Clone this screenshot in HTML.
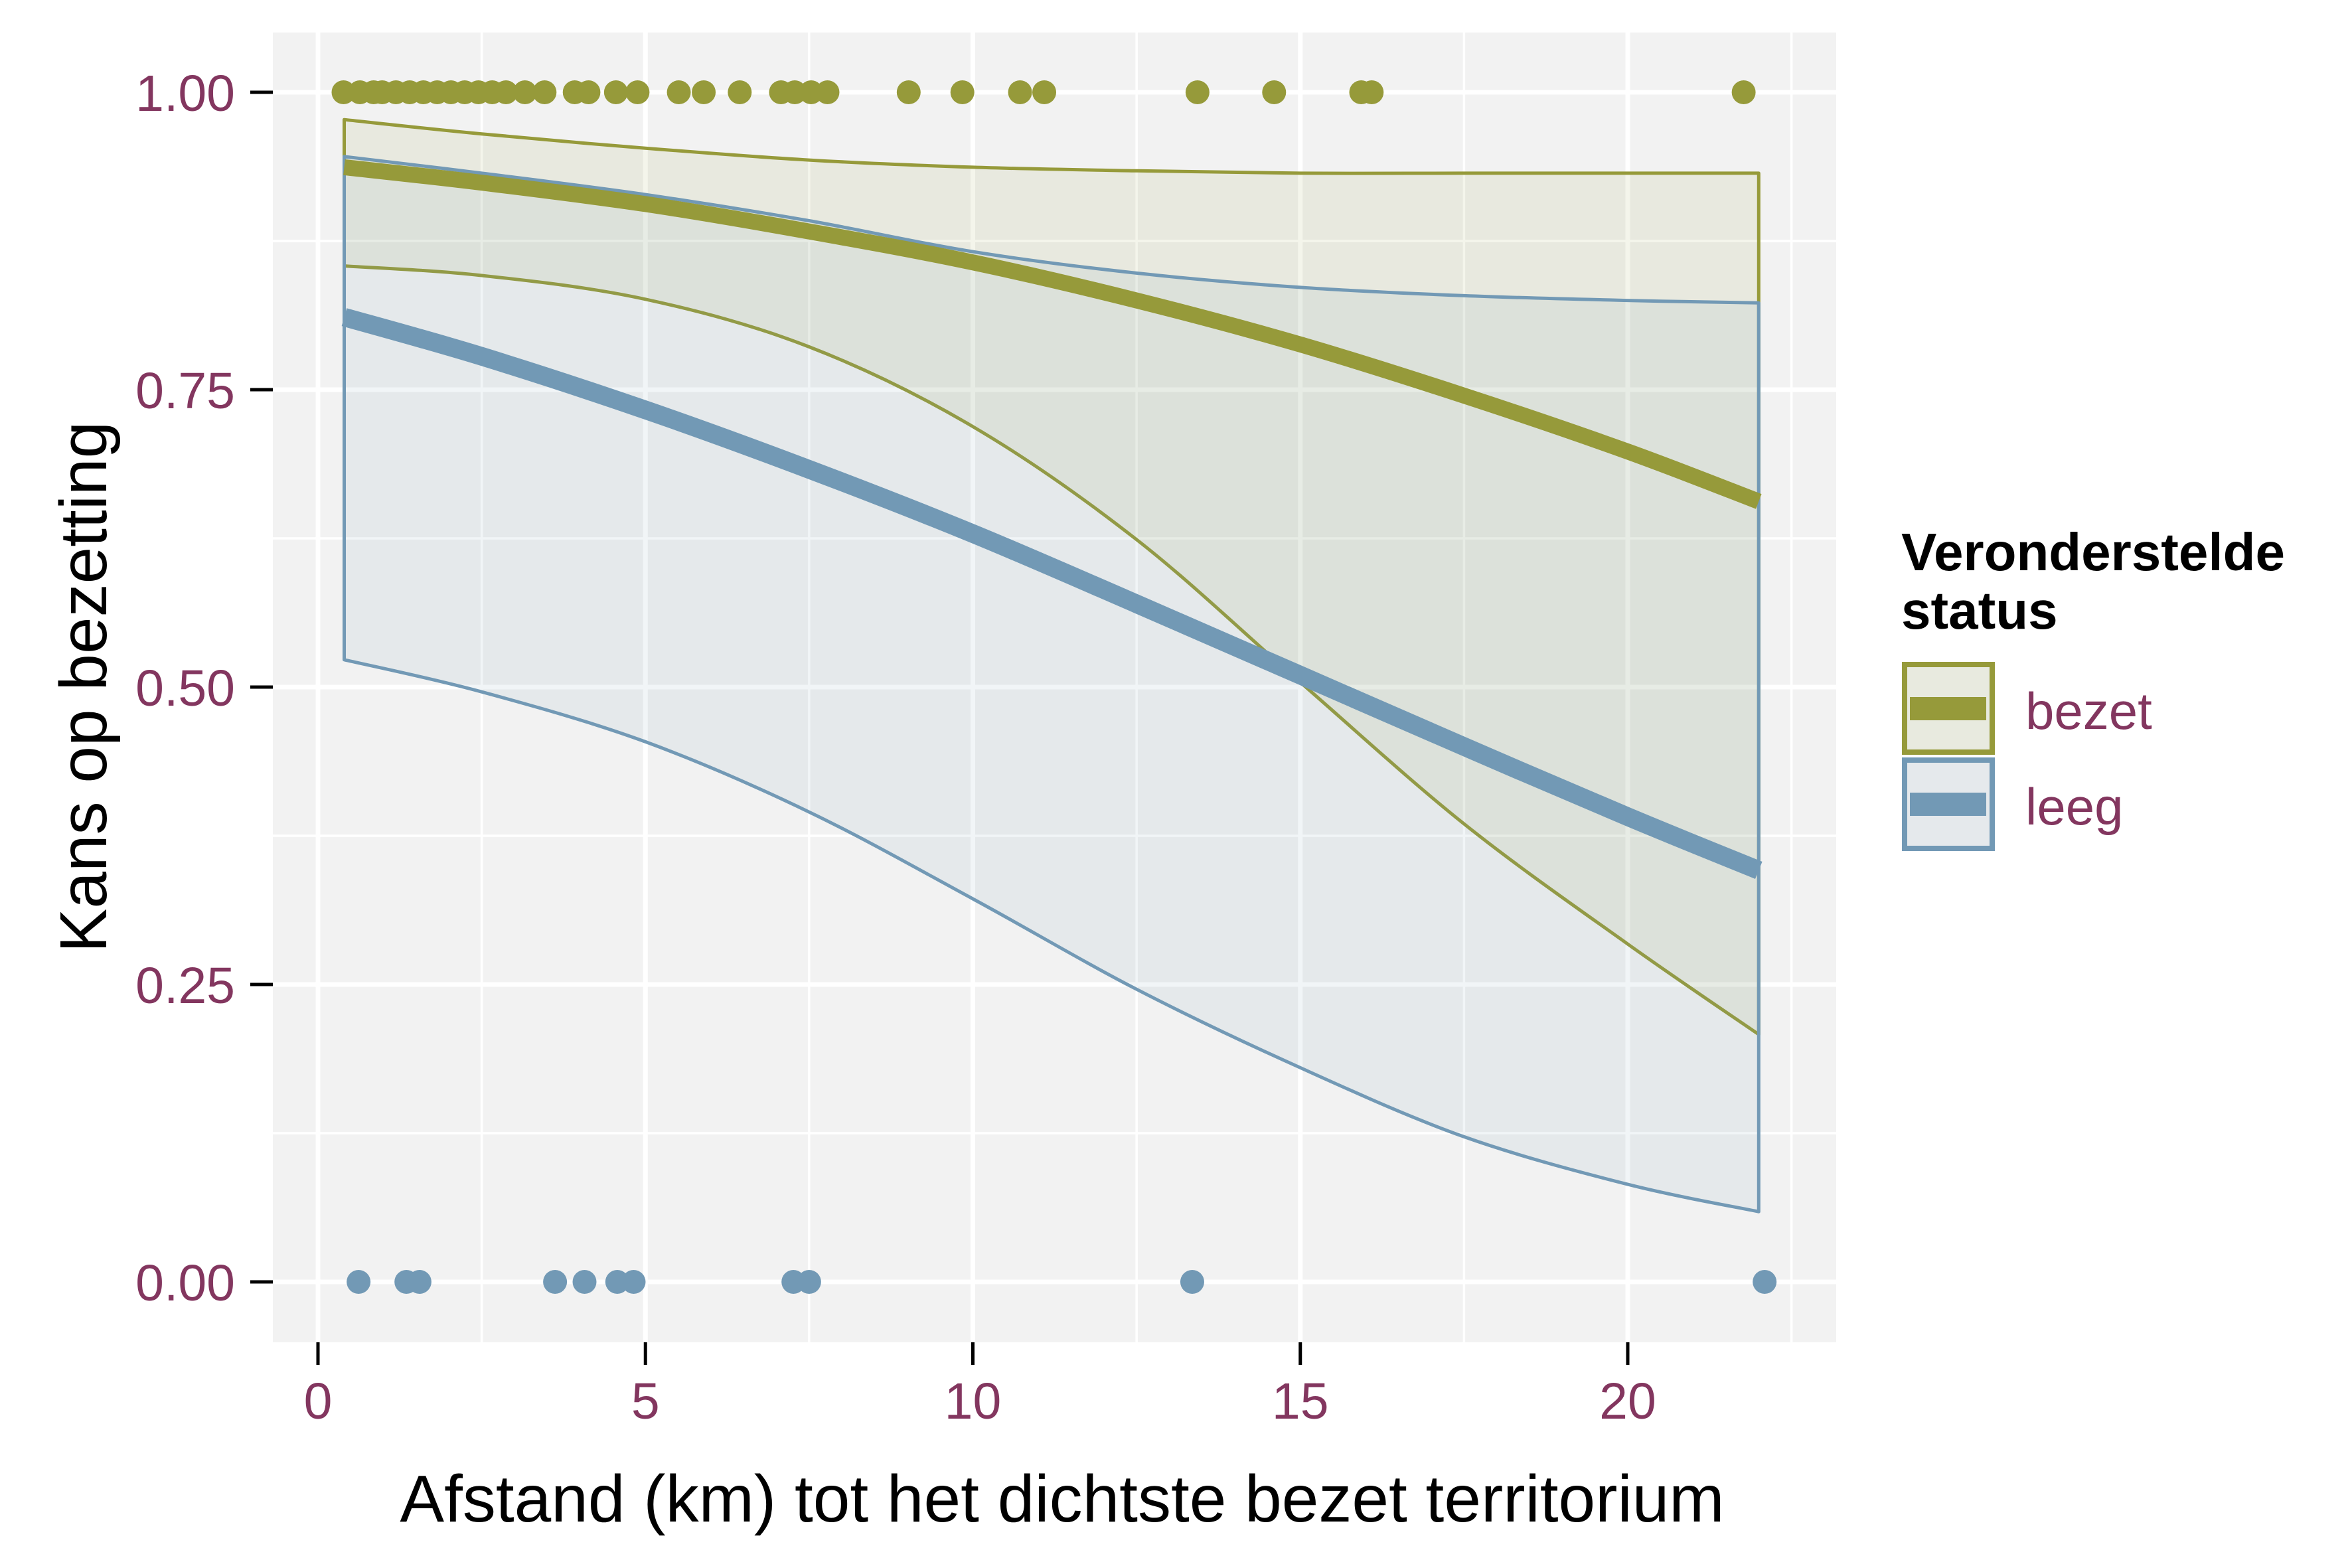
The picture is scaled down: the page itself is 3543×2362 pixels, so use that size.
<!DOCTYPE html>
<html><head><meta charset="utf-8"><style>
html,body{margin:0;padding:0;background:#fff;}
svg{display:block;font-family:"Liberation Sans",Arial,sans-serif;}
</style></head><body>
<svg id="chart" width="3543" height="2362" viewBox="0 0 3543 2362" xmlns="http://www.w3.org/2000/svg">
<rect x="0" y="0" width="3543" height="2362" fill="#fff"/>
<rect x="411" y="49" width="2355" height="1973" fill="#F2F2F2"/>
<g id="grid"></g>
<g id="ribbons"></g>
<g id="lines"></g>
<g id="points"></g>
<g id="axes"></g>
<text x="1600" y="2292" font-size="100" text-anchor="middle" fill="#000">Afstand (km) tot het dichtste bezet territorium</text>
<text transform="translate(160,1035) rotate(-90)" font-size="100" text-anchor="middle" fill="#000">Kans op bezetting</text>
<g>
<text x="2864" y="859" font-size="80" font-weight="bold" fill="#000">Veronderstelde</text>
<text x="2864" y="947" font-size="80" font-weight="bold" fill="#000">status</text>
<g>
<rect x="2865" y="997" width="140" height="140" fill="#F2F2F2"/>
<rect x="2869" y="1001" width="132" height="132" fill="#E8EADF" stroke="#969A3A" stroke-width="8"/>
<rect x="2877" y="1050" width="115" height="35" fill="#969A3A"/>
<text x="3051" y="1098" font-size="78" fill="#83365F">bezet</text>
</g>
<g>
<rect x="2865" y="1141" width="140" height="141" fill="#F2F2F2"/>
<rect x="2869" y="1145" width="132" height="133" fill="#E5E9EC" stroke="#7299B5" stroke-width="8"/>
<rect x="2877" y="1194" width="115" height="35" fill="#7299B5"/>
<text x="3051" y="1242" font-size="78" fill="#83365F">leeg</text>
</g>
</g>
</svg>
<script>
const xGrid = [0.4, 2.5, 5, 7.5, 10, 12.5, 15, 17.5, 20, 22];
const bezetFit = [0.937, 0.924, 0.906, 0.883, 0.857, 0.825, 0.788, 0.745, 0.698, 0.656];
const bezetUpper = [0.977, 0.965, 0.953, 0.943, 0.937, 0.934, 0.932, 0.932, 0.932, 0.932];
const bezetLower = [0.854, 0.846, 0.826, 0.786, 0.719, 0.624, 0.504, 0.385, 0.284, 0.208];
const leegFit = [0.811, 0.778, 0.733, 0.683, 0.629, 0.570, 0.510, 0.450, 0.391, 0.346];
const leegUpper = [0.946, 0.932, 0.914, 0.892, 0.866, 0.848, 0.836, 0.829, 0.825, 0.823];
const leegLower = [0.523, 0.496, 0.454, 0.395, 0.322, 0.246, 0.180, 0.122, 0.082, 0.059];
const bezetPointsX = [0.39,0.64,0.85,0.98,1.19,1.40,1.61,1.82,2.03,2.24,2.45,2.66,2.87,3.16,3.46,3.92,4.13,4.55,4.88,5.51,5.89,6.44,7.07,7.28,7.53,7.78,9.02,9.84,10.72,11.09,13.43,14.6,15.93,16.09,21.77];
const leegPointsX = [0.62,1.35,1.55,3.62,4.07,4.57,4.82,7.26,7.5,13.35,22.09];
const xTicks = [0, 5, 10, 15, 20];
const xTickLabels = ["0","5","10","15","20"];
const yTicks = [0, 0.25, 0.5, 0.75, 1];
const yTickLabels = ["0.00","0.25","0.50","0.75","1.00"];

const NS = "http://www.w3.org/2000/svg";
const X = v => 479 + v * 98.65;
const Y = v => 1931 - v * 1792;
const PL = 411, PR = 2766, PT = 49, PB = 2022;
const OLIVE = "#969A3A", BLUE = "#7299B5", TICKC = "#83365F";

function mk(tag, attrs, parent) {
  const e = document.createElementNS(NS, tag);
  for (const k in attrs) e.setAttribute(k, attrs[k]);
  parent.appendChild(e);
  return e;
}
function smooth(pts) {
  let d = "M" + pts[0][0].toFixed(1) + "," + pts[0][1].toFixed(1);
  for (let i = 0; i < pts.length - 1; i++) {
    const p0 = pts[Math.max(0, i - 1)], p1 = pts[i], p2 = pts[i + 1], p3 = pts[Math.min(pts.length - 1, i + 2)];
    const c1x = p1[0] + (p2[0] - p0[0]) / 6, c1y = p1[1] + (p2[1] - p0[1]) / 6;
    const c2x = p2[0] - (p3[0] - p1[0]) / 6, c2y = p2[1] - (p3[1] - p1[1]) / 6;
    d += " C" + c1x.toFixed(1) + "," + c1y.toFixed(1) + " " + c2x.toFixed(1) + "," + c2y.toFixed(1) + " " + p2[0].toFixed(1) + "," + p2[1].toFixed(1);
  }
  return d;
}

const grid = document.getElementById("grid");
[2.5, 7.5, 12.5, 17.5, 22.5].forEach(v => {
  const l = mk("line", {x1: X(v), x2: X(v), y1: PT, y2: PB, stroke: "#fff", "stroke-width": 3.5}, grid);
  
  
});
[0.125, 0.375, 0.625, 0.875].forEach(v => {
  const l = mk("line", {x1: PL, x2: PR, y1: Y(v), y2: Y(v), stroke: "#fff", "stroke-width": 3.5}, grid);
  
  
});
xTicks.forEach(v => {
  const l = mk("line", {x1: X(v), x2: X(v), y1: PT, y2: PB, stroke: "#fff", "stroke-width": 7}, grid);
  
  
});
yTicks.forEach(v => {
  const l = mk("line", {x1: PL, x2: PR, y1: Y(v), y2: Y(v), stroke: "#fff", "stroke-width": 7}, grid);
  
  
});

const rib = document.getElementById("ribbons");
function ribbon(up, lo, col, fill, name) {
  const upPts = xGrid.map((x, i) => [X(x), Y(up[i])]);
  const loPts = xGrid.map((x, i) => [X(x), Y(lo[i])]).reverse();
  const d = smooth(upPts) + " L" + loPts[0][0] + "," + loPts[0][1] + smooth(loPts).replace(/^M[^C]*/, " ") + " Z";
  const p = mk("path", {d: d, fill: fill, "fill-opacity": 0.1, stroke: col, "stroke-width": 5, "stroke-linejoin": "round"}, rib);
  
  
}
ribbon(bezetUpper, bezetLower, OLIVE, OLIVE, "ribbon-bezet");
ribbon(leegUpper, leegLower, BLUE, BLUE, "ribbon-leeg");

const lines = document.getElementById("lines");
function fitLine(vals, col, w, name) {
  const p = mk("path", {d: smooth(xGrid.map((x, i) => [X(x), Y(vals[i])])), fill: "none", stroke: col, "stroke-width": w}, lines);
  
  
}
fitLine(bezetFit, OLIVE, 24, "fit-line-bezet");
fitLine(leegFit, BLUE, 28, "fit-line-leeg");

const pts = document.getElementById("points");
bezetPointsX.forEach(v => {
  const c = mk("circle", {cx: X(v), cy: Y(1), r: 18, fill: OLIVE}, pts);
  
  
});
leegPointsX.forEach(v => {
  const c = mk("circle", {cx: X(v), cy: Y(0), r: 18, fill: BLUE}, pts);
  
  
});

const axes = document.getElementById("axes");
xTicks.forEach((v, i) => {
  const t = mk("line", {x1: X(v), x2: X(v), y1: PB, y2: PB + 34, stroke: "#000", "stroke-width": 5}, axes);
  
  
  const tx = mk("text", {x: X(v), y: 2137, "font-size": 77, "text-anchor": "middle", fill: TICKC}, axes);
  tx.textContent = xTickLabels[i];
  
  
});
yTicks.forEach((v, i) => {
  const t = mk("line", {x1: PL - 34, x2: PL, y1: Y(v), y2: Y(v), stroke: "#000", "stroke-width": 5}, axes);
  
  
  const tx = mk("text", {x: 354, y: Y(v) + 28, "font-size": 77, "text-anchor": "end", fill: TICKC}, axes);
  tx.textContent = yTickLabels[i];
  
  
});
</script>
</body></html>
